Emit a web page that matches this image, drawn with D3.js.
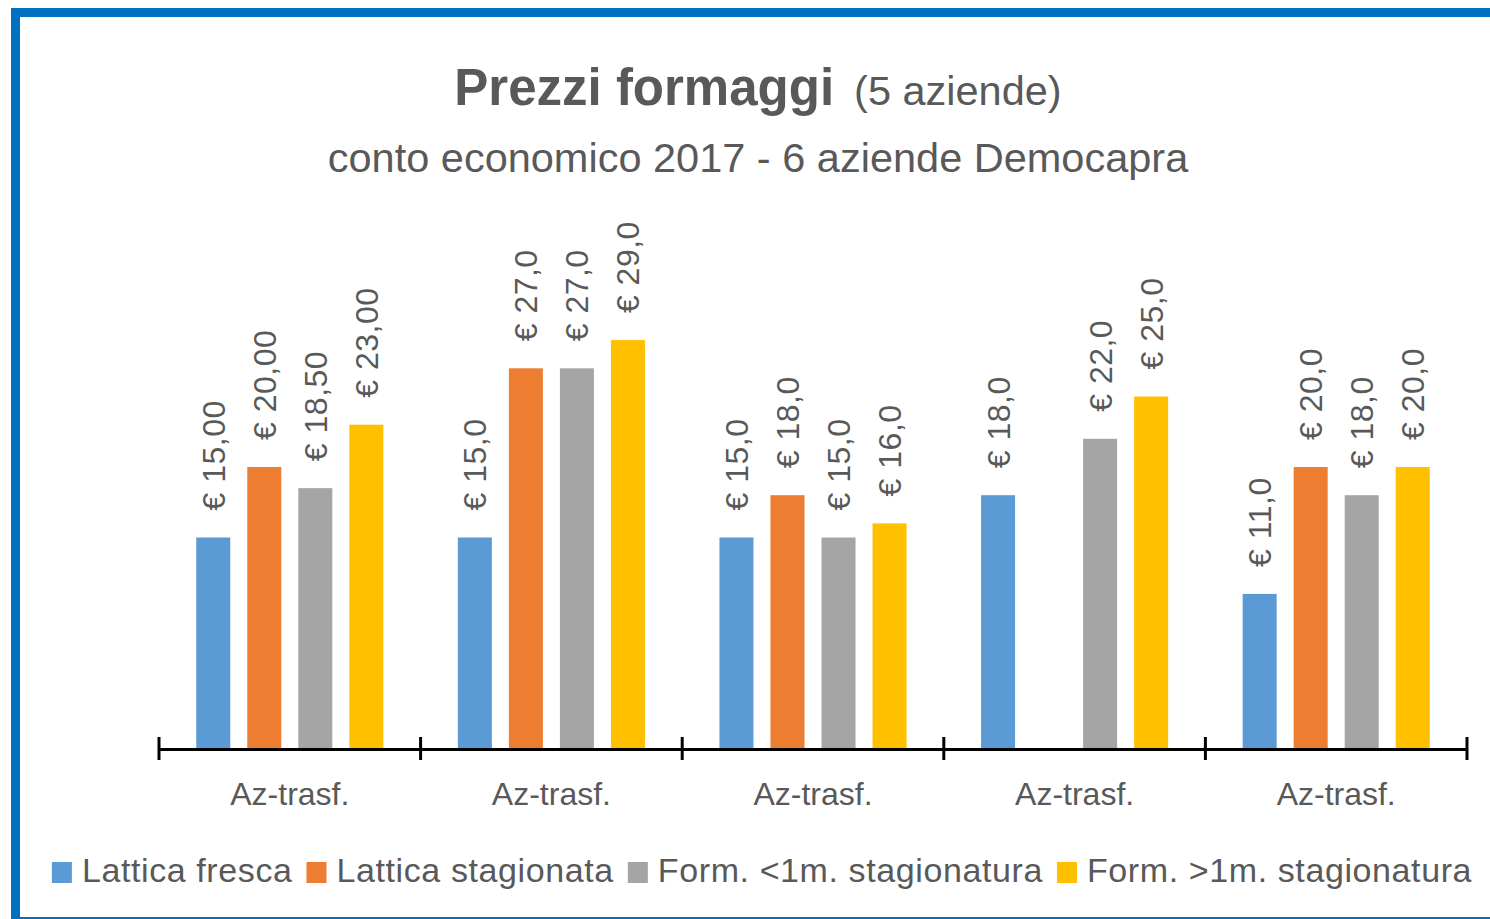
<!DOCTYPE html>
<html>
<head>
<meta charset="utf-8">
<script src="https://cdn.jsdelivr.net/npm/d3@7"></script>
<style>
  html, body { margin: 0; padding: 0; background: #ffffff; }
  svg { display: block; }
  text { font-family: "Liberation Sans", Arial, sans-serif; fill: #595959; }
</style>
</head>
<body>
<svg id="chart" width="1490" height="919"></svg>
<script>
// ---- data ----
const categories = ["Az-trasf.", "Az-trasf.", "Az-trasf.", "Az-trasf.", "Az-trasf."];
const seriesNames = ["Lattica fresca", "Lattica stagionata", "Form. <1m. stagionatura", "Form. >1m. stagionatura"];
const latticaFresca      = [15.0, 15.0, 15.0, 18.0, 11.0];
const latticaStagionata  = [20.0, 27.0, 18.0, null, 20.0];
const formMenoUnMese     = [18.5, 27.0, 15.0, 22.0, 18.0];
const formPiuUnMese      = [23.0, 29.0, 16.0, 25.0, 20.0];
const labelDecimals      = [2, 1, 1, 1, 1];
const seriesColors = ["#5B9BD5", "#ED7D31", "#A5A5A5", "#FFC000"];
const titleMain = "Prezzi formaggi";
const titleSub = "(5 aziende)";
const subtitle = "conto economico 2017 - 6 aziende Democapra";

const seriesValues = [latticaFresca, latticaStagionata, formMenoUnMese, formPiuUnMese];

// ---- layout ----
const svg = d3.select("#chart");
const axisY = 749;
const plotLeft = 159, plotRight = 1467;
const centerX = 758;

// frame
svg.append("rect")
  .attr("x", 15.5).attr("y", 12.5)
  .attr("width", 1600).attr("height", 909)
  .attr("fill", "none")
  .attr("stroke", "#0070C0")
  .attr("stroke-width", 9);

// titles
const t = svg.append("text")
  .attr("x", centerX).attr("y", 105)
  .attr("text-anchor", "middle");
t.append("tspan").attr("font-weight", "bold").attr("font-size", 51).text(titleMain);
t.append("tspan").attr("font-size", 41.5).attr("dx", 20).text(titleSub);

svg.append("text")
  .attr("x", centerX).attr("y", 172)
  .attr("text-anchor", "middle")
  .attr("font-size", 41.5)
  .text(subtitle);

// scales
const x0 = d3.scaleBand()
  .domain(d3.range(categories.length))
  .range([plotLeft, plotRight])
  .padding(0);

const x1 = d3.scaleBand()
  .domain(d3.range(seriesNames.length))
  .range([0, x0.bandwidth()])
  .paddingInner(1 / 3)
  .paddingOuter(0.73);

const y = d3.scaleLinear()
  .domain([0, 35])
  .range([axisY, axisY - 35 * 14.1]);

// bars
const cells = [];
categories.forEach((c, gi) => {
  seriesValues.forEach((vals, si) => {
    if (vals[gi] != null) cells.push({ gi, si, v: vals[gi] });
  });
});

svg.append("g").selectAll("rect")
  .data(cells)
  .join("rect")
  .attr("x", d => x0(d.gi) + x1(d.si))
  .attr("y", d => y(d.v))
  .attr("width", x1.bandwidth())
  .attr("height", d => y(0) - y(d.v))
  .attr("fill", d => seriesColors[d.si]);

// data labels
const fmt = (v, dec) => "€ " + d3.format("." + dec + "f")(v).replace(".", ",");
svg.append("g").selectAll("text")
  .data(cells)
  .join("text")
  .attr("transform", d => {
    const cx = x0(d.gi) + x1(d.si) + x1.bandwidth() / 2;
    const cy = y(d.v) - 27;
    return `translate(${cx},${cy}) rotate(-90)`;
  })
  .attr("dy", "0.36em")
  .attr("font-size", 32)
  .attr("letter-spacing", 0.5)
  .attr("text-anchor", "start")
  .text(d => fmt(d.v, labelDecimals[d.gi]));

// axis
const axis = d3.axisBottom(x0)
  .tickSize(0)
  .tickSizeOuter(0)
  .tickFormat(i => categories[i]);
const ag = svg.append("g").attr("transform", `translate(0,${axisY})`).call(axis);
ag.select(".domain").attr("stroke", "#000").attr("stroke-width", 3);
ag.selectAll(".tick text")
  .attr("y", 56).attr("dy", 0)
  .attr("font-size", 32)
  .attr("font-family", "Liberation Sans, Arial, sans-serif")
  .attr("fill", "#595959");

// boundary ticks
const boundaries = categories.map((c, i) => x0(i)).concat([x0(categories.length - 1) + x0.bandwidth()]);
ag.append("g").selectAll("line")
  .data(boundaries)
  .join("line")
  .attr("x1", d => d).attr("x2", d => d)
  .attr("y1", -12).attr("y2", 11)
  .attr("stroke", "#000")
  .attr("stroke-width", 3);

// legend
const legend = svg.append("g");
const items = legend.selectAll("g")
  .data(seriesNames)
  .join("g");
items.append("rect")
  .attr("width", 20).attr("height", 21)
  .attr("y", 862)
  .attr("fill", (d, i) => seriesColors[i]);
items.append("text")
  .attr("y", 882)
  .attr("font-size", 34)
  .attr("letter-spacing", 0.6)
  .text(d => d);

const widths = [];
items.select("text").each(function () { widths.push(this.getComputedTextLength()); });
const sqW = 20, sqGap = 10, itemGap = 14;
const total = d3.sum(widths) + widths.length * (sqW + sqGap) + (widths.length - 1) * itemGap;
let cursor = 762 - total / 2;
items.each(function (d, i) {
  const g = d3.select(this);
  g.select("rect").attr("x", cursor);
  g.select("text").attr("x", cursor + sqW + sqGap);
  cursor += sqW + sqGap + widths[i] + itemGap;
});
</script>
</body>
</html>
